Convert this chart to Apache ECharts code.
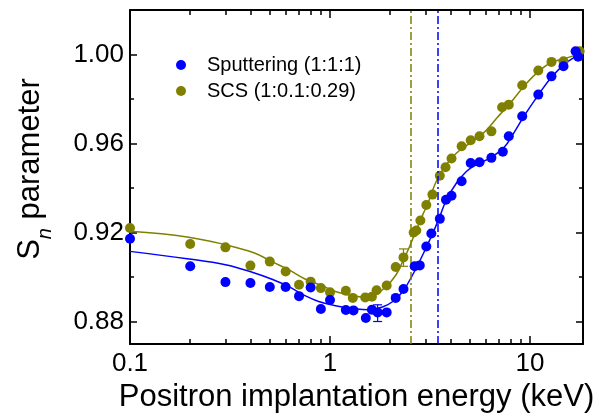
<!DOCTYPE html>
<html>
<head>
<meta charset="utf-8">
<script src="https://cdn.jsdelivr.net/npm/echarts@6/dist/echarts.min.js"></script>
<style>html,body{margin:0;padding:0;background:#fff}#c{width:604px;height:420px}</style>
</head>
<body>
<div id="c"></div>
<script>
// ---- data ----
const xMajorTicks = [0.1, 1, 10];
const xMinorTicks = [0.2, 0.3, 0.4, 0.5, 0.6, 0.7, 0.8, 0.9, 2, 3, 4, 5, 6, 7, 8, 9];
const yMajorTicks = [0.88, 0.92, 0.96, 1.00];
const yMinorTicks = [0.90, 0.94, 0.98];

const sputName = 'Sputtering (1:1:1)';
const sputE = [0.1, 0.2, 0.3, 0.4, 0.5, 0.6, 0.7, 0.8, 0.9, 1.0, 1.2, 1.31, 1.51, 1.62, 1.73, 1.92, 2.13, 2.33, 2.65, 2.81, 3.03, 3.21, 3.54, 3.80, 4.05, 4.55, 5.05, 5.59, 6.41, 7.31, 7.83, 9.14, 11.0, 12.8, 14.7, 16.9, 17.4];
const sputS = [0.9173, 0.9049, 0.8978, 0.8974, 0.8956, 0.8956, 0.8915, 0.8954, 0.8857, 0.8898, 0.8853, 0.8851, 0.8817, 0.8854, 0.8842, 0.8842, 0.8907, 0.8947, 0.9049, 0.9053, 0.9138, 0.9196, 0.9262, 0.9348, 0.9366, 0.9431, 0.9513, 0.9516, 0.9536, 0.9563, 0.9633, 0.9723, 0.9820, 0.9902, 0.9947, 1.0015, 0.9990];

const scsName = 'SCS (1:0.1:0.29)';
const scsE = [0.1, 0.2, 0.3, 0.4, 0.5, 0.6, 0.7, 0.8, 0.9, 1.0, 1.2, 1.3, 1.5, 1.62, 1.71, 1.92, 2.13, 2.33, 2.62, 2.70, 2.83, 3.03, 3.25, 3.54, 3.78, 4.05, 4.55, 5.05, 5.59, 6.41, 7.25, 7.83, 9.14, 11.0, 12.8, 14.7, 17.7];
const scsS = [0.9221, 0.9149, 0.9134, 0.9052, 0.9070, 0.9026, 0.8966, 0.8980, 0.8951, 0.8932, 0.8939, 0.8907, 0.8909, 0.8912, 0.8941, 0.8963, 0.9046, 0.9089, 0.9201, 0.9210, 0.9255, 0.9324, 0.9371, 0.9456, 0.9494, 0.9533, 0.9588, 0.9615, 0.9633, 0.9655, 0.9763, 0.9775, 0.9862, 0.9928, 0.9967, 0.9970, 1.0015];

// fitted curves
const sputFitE = [0.1, 0.193, 0.3, 0.419, 0.509, 0.619, 0.750, 0.877, 1.064, 1.29, 1.57, 1.83, 2.06, 2.31, 2.59, 2.91, 3.27, 3.54, 3.82, 4.29, 4.82, 5.42, 6.33, 7.39, 8.30, 9.33, 10.9, 12.7, 14.8, 17.3];
const sputFitS = [0.9116, 0.9083, 0.9056, 0.9019, 0.8992, 0.8959, 0.8917, 0.8891, 0.8872, 0.8860, 0.8854, 0.8866, 0.8891, 0.8936, 0.9011, 0.9101, 0.9199, 0.9273, 0.9348, 0.9423, 0.9476, 0.9506, 0.9536, 0.9581, 0.9648, 0.9723, 0.9813, 0.9895, 0.9955, 0.9996];

const scsFitE = [0.1, 0.193, 0.3, 0.419, 0.509, 0.619, 0.750, 0.911, 1.064, 1.29, 1.45, 1.69, 1.90, 2.14, 2.31, 2.50, 2.70, 2.91, 3.09, 3.40, 3.82, 4.29, 5.02, 5.86, 6.33, 6.84, 7.99, 9.33, 10.9, 12.7, 14.8, 17.3];
const scsFitS = [0.9206, 0.9181, 0.9146, 0.9109, 0.9071, 0.9034, 0.8992, 0.8962, 0.8936, 0.8917, 0.8911, 0.8924, 0.8956, 0.9011, 0.9071, 0.9138, 0.9213, 0.9281, 0.9333, 0.9431, 0.9506, 0.9558, 0.9603, 0.9648, 0.9680, 0.9716, 0.9783, 0.9858, 0.9920, 0.9963, 0.9981, 1.0000];

// error bars: [E, low, high]
const sputErr = [[1.73, 0.8801, 0.8876]];
const scsErr = [[2.33, 0.9049, 0.9127]];

// characteristic energies (vertical dash-dot lines)
const scsLineE = 2.53;
const sputLineE = 3.45;

const blue = '#0000ff';
const olive = '#808000';
const FONT = 'Arial, "Liberation Sans", sans-serif';

const zip = (a, b) => a.map((v, i) => [v, b[i]]);

function errRender(color) {
  return function (params, api) {
    const x = api.value(0), lo = api.value(1), hi = api.value(2);
    const p1 = api.coord([x, lo]);
    const p2 = api.coord([x, hi]);
    const w = 4.5;
    const st = { stroke: color, lineWidth: 1.2 };
    return {
      type: 'group',
      children: [
        { type: 'line', shape: { x1: p1[0], y1: p1[1], x2: p2[0], y2: p2[1] }, style: st },
        { type: 'line', shape: { x1: p1[0] - w, y1: p1[1], x2: p1[0] + w, y2: p1[1] }, style: st },
        { type: 'line', shape: { x1: p2[0] - w, y1: p2[1], x2: p2[0] + w, y2: p2[1] }, style: st }
      ]
    };
  };
}

const xBase = { type: 'log', logBase: 10, min: 0.1, max: 18.4, gridIndex: 0, splitLine: { show: false }, minorTick: { show: false } };
const yBase = { type: 'value', min: 0.87, max: 1.02, gridIndex: 0, splitLine: { show: false }, minorTick: { show: false } };
const lineBlack = { show: true, onZero: false, lineStyle: { color: '#000', width: 2 } };

const chart = echarts.init(document.getElementById('c'), null, { renderer: 'canvas' });
chart.setOption({
  animation: false,
  backgroundColor: '#fff',
  grid: { left: 130, right: 21, top: 10, bottom: 76, containLabel: false, outerBoundsMode: 'none' },
  legend: {
    orient: 'vertical', left: 176, top: 55, padding: 0, itemWidth: 42, itemHeight: 10, itemGap: 6,
    icon: 'circle', data: [sputName, scsName],
    textStyle: { fontFamily: FONT, fontSize: 20, color: '#000' }
  },
  xAxis: [
    Object.assign({}, xBase, {
      position: 'bottom', axisLine: lineBlack,
      axisTick: { show: true, inside: true, length: 8, customValues: xMajorTicks, lineStyle: { color: '#000', width: 1.5 } },
      axisLabel: { show: true, customValues: xMajorTicks, margin: 7, fontFamily: FONT, fontSize: 26, color: '#000',
        formatter: v => (v < 1 ? v.toFixed(1) : String(Math.round(v))) },
      name: 'Positron implantation energy (keV)', nameLocation: 'middle', nameGap: 34,
      nameTextStyle: { fontFamily: FONT, fontSize: 31, color: '#000' }
    }),
    Object.assign({}, xBase, {
      position: 'bottom', axisLine: { show: false },
      axisTick: { show: true, inside: true, length: 5, customValues: xMinorTicks, lineStyle: { color: '#000', width: 1.5 } },
      axisLabel: { show: false }
    }),
    Object.assign({}, xBase, {
      position: 'top', axisLine: lineBlack,
      axisTick: { show: true, inside: true, length: 8, customValues: xMajorTicks, lineStyle: { color: '#000', width: 1.5 } },
      axisLabel: { show: false }
    }),
    Object.assign({}, xBase, {
      position: 'top', axisLine: { show: false },
      axisTick: { show: true, inside: true, length: 5, customValues: xMinorTicks, lineStyle: { color: '#000', width: 1.5 } },
      axisLabel: { show: false }
    })
  ],
  yAxis: [
    Object.assign({}, yBase, {
      position: 'left', axisLine: lineBlack,
      axisTick: { show: true, inside: true, length: 7, customValues: yMajorTicks, lineStyle: { color: '#000', width: 1.5 } },
      axisLabel: { show: true, customValues: yMajorTicks, margin: 6, fontFamily: FONT, fontSize: 26, color: '#000',
        formatter: v => v.toFixed(2) },
      name: '{a|S}{b|n}{a| parameter}', nameLocation: 'middle', nameGap: 75,
      nameTextStyle: {
        fontFamily: FONT, color: '#000', padding: [0, 0, 0, 16],
        rich: {
          a: { fontFamily: FONT, fontSize: 31, color: '#000', lineHeight: 40, verticalAlign: 'top' },
          b: { fontFamily: FONT, fontSize: 20, fontStyle: 'italic', color: '#000', lineHeight: 40, verticalAlign: 'bottom' }
        }
      }
    }),
    Object.assign({}, yBase, {
      position: 'left', axisLine: { show: false },
      axisTick: { show: true, inside: true, length: 4, customValues: yMinorTicks, lineStyle: { color: '#000', width: 1.5 } },
      axisLabel: { show: false }
    }),
    Object.assign({}, yBase, {
      position: 'right', axisLine: lineBlack,
      axisTick: { show: true, inside: true, length: 7, customValues: yMajorTicks, lineStyle: { color: '#000', width: 1.5 } },
      axisLabel: { show: false }
    }),
    Object.assign({}, yBase, {
      position: 'right', axisLine: { show: false },
      axisTick: { show: true, inside: true, length: 4, customValues: yMinorTicks, lineStyle: { color: '#000', width: 1.5 } },
      axisLabel: { show: false }
    })
  ],
  series: [
    {
      name: 'sputFit', type: 'line', xAxisIndex: 0, yAxisIndex: 0, data: zip(sputFitE, sputFitS),
      smooth: 0.4, showSymbol: false, symbol: 'none', lineStyle: { color: blue, width: 1.5 }, z: 2,
      markLine: { silent: true, symbol: 'none', label: { show: false },
        lineStyle: { color: blue, width: 1.5, type: [8, 3, 2, 3] }, data: [{ xAxis: sputLineE }] }
    },
    {
      name: 'scsFit', type: 'line', xAxisIndex: 0, yAxisIndex: 0, data: zip(scsFitE, scsFitS),
      smooth: 0.4, showSymbol: false, symbol: 'none', lineStyle: { color: olive, width: 1.5 }, z: 2,
      markLine: { silent: true, symbol: 'none', label: { show: false },
        lineStyle: { color: olive, width: 1.5, type: [8, 3, 2, 3] }, data: [{ xAxis: scsLineE }] }
    },
    {
      name: 'sputErr', type: 'custom', xAxisIndex: 0, yAxisIndex: 0, data: sputErr,
      encode: { x: 0, y: [1, 2] }, renderItem: errRender(blue), z: 3
    },
    {
      name: 'scsErr', type: 'custom', xAxisIndex: 0, yAxisIndex: 0, data: scsErr,
      encode: { x: 0, y: [1, 2] }, renderItem: errRender(olive), z: 3
    },
    {
      name: scsName, type: 'scatter', xAxisIndex: 0, yAxisIndex: 0, data: zip(scsE, scsS),
      symbol: 'circle', symbolSize: 10, itemStyle: { color: olive, opacity: 1 }, z: 4
    },
    {
      name: sputName, type: 'scatter', xAxisIndex: 0, yAxisIndex: 0, data: zip(sputE, sputS),
      symbol: 'circle', symbolSize: 10, itemStyle: { color: blue, opacity: 1 }, z: 5
    }
  ]
});
</script>
</body>
</html>
